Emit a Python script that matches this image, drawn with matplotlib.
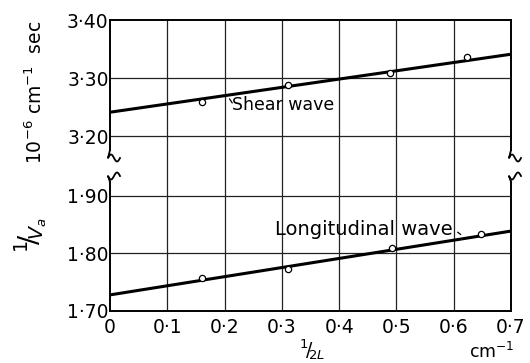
import matplotlib
matplotlib.use('Agg')
import matplotlib.pyplot as plt
import numpy as np
from matplotlib.lines import Line2D

plt.rcParams['font.family'] = ['DejaVu Sans']
plt.rcParams['mathtext.fontset'] = 'dejavusans'

# ---- data ----
shear_x = [0.160, 0.310, 0.489, 0.624]
shear_y = [3.259, 3.288, 3.309, 3.337]
shear_fit = [3.241, 3.341]          # line value at x=0 and x=0.7

long_x = [0.160, 0.310, 0.492, 0.647]
long_y = [1.757, 1.7725, 1.810, 1.834]
long_fit = [1.728, 1.839]

fit_x = [0.0, 0.7]
x_ticks = [0, 0.1, 0.2, 0.3, 0.4, 0.5, 0.6, 0.7]
x_ticklabels = ['0', '0·1', '0·2', '0·3', '0·4', '0·5', '0·6', '0·7']
upper_ticks = [3.20, 3.30, 3.40]
upper_labels = ['3·20', '3·30', '3·40']
lower_ticks = [1.70, 1.80, 1.90]
lower_labels = ['1·70', '1·80', '1·90']

W, H = 530, 363
fig = plt.figure(figsize=(W / 100, H / 100), dpi=100)


def px(x, y):
    return x / W, 1 - y / H


L, R, T, M, B = 110, 511, 20, 168, 311
ax_up = fig.add_axes([L / W, 1 - M / H, (R - L) / W, (M - T) / H])
ax_lo = fig.add_axes([L / W, 1 - B / H, (R - L) / W, (B - M) / H])

ax_up.set_ylim(3.40 - (M - T) / 58 * 0.1, 3.40)
ax_lo.set_ylim(1.70, 1.70 + (B - M) / 57.5 * 0.1)

fs = 12.5
tfs = 13.5
for ax in (ax_up, ax_lo):
    ax.set_xlim(0, 0.7)
    ax.set_xticks(x_ticks)
    for xv in x_ticks[1:-1]:
        ax.axvline(xv, color='#222222', lw=0.9, zorder=1)
    ax.tick_params(length=0, labelsize=tfs, pad=1)
    for s in ax.spines.values():
        s.set_linewidth(1.4)
    ax.patch.set_alpha(0)

ax_up.spines['bottom'].set_visible(False)
ax_lo.spines['top'].set_visible(False)
ax_up.set_xticklabels([])
ax_lo.set_xticklabels(x_ticklabels)
ax_lo.tick_params(axis='x', pad=5)

ax_up.set_yticks(upper_ticks)
ax_up.set_yticklabels(upper_labels)
ax_lo.set_yticks(lower_ticks)
ax_lo.set_yticklabels(lower_labels)
for yv in upper_ticks[:-1]:
    ax_up.axhline(yv, color='#222222', lw=0.9, zorder=1)
for yv in lower_ticks[1:]:
    ax_lo.axhline(yv, color='#222222', lw=0.9, zorder=1)

# spine gaps at the axis break
up_lo = 3.40 - (150 - T) / 58 * 0.1
lo_hi = 1.70 + (B - 182) / 57.5 * 0.1
for side in ('left', 'right'):
    ax_up.spines[side].set_bounds(up_lo, 3.40)
    ax_lo.spines[side].set_bounds(1.70, lo_hi)

# fitted lines and points
ax_up.plot(fit_x, shear_fit, color='black', lw=2.2, zorder=3)
ax_up.plot(shear_x, shear_y, 'o', ms=4.5, mfc='white', mec='black', mew=0.9, zorder=4)
ax_lo.plot(fit_x, long_fit, color='black', lw=2.2, zorder=3)
ax_lo.plot(long_x, long_y, 'o', ms=4.5, mfc='white', mec='black', mew=0.9, zorder=4)

# labels on the lines
ax_up.text(0.302, 3.2534, 'Shear wave', fontsize=fs, va='center', ha='center')
ax_up.annotate('', xy=(0.206, 3.268), xytext=(0.216, 3.253),
               arrowprops=dict(arrowstyle='-', lw=0.9, color='black'))
ax_lo.text(0.598, 1.8417, 'Longitudinal wave', fontsize=fs + 1.5, va='center', ha='right')
ax_lo.annotate('', xy=(0.616, 1.830), xytext=(0.603, 1.840),
               arrowprops=dict(arrowstyle='-', lw=0.9, color='black'))

# break wiggles on both side spines
t = np.linspace(0, 1, 40)
for xc in (L, R):
    for yc, d in ((158, -1), (176, 1)):
        xs = xc - 2 + 12 * t
        ys = yc + 3.5 * np.sin(2 * np.pi * t) * d
        # join wiggle to the spine end
        xs = np.concatenate([[xc], xs])
        ys = np.concatenate([[150 if d < 0 else 182], ys])
        fx, fy = zip(*[px(a, b) for a, b in zip(xs, ys)])
        fig.add_artist(Line2D(fx, fy, color='black', lw=1.3, transform=fig.transFigure))

# axis titles
fig.text(*px(35, 92), r'$10^{-6}\ \mathrm{cm}^{-1}\ \ \mathrm{sec}$', rotation=90,
         ha='center', va='center', fontsize=13.5)
fig.text(*px(31, 235), r'$^{1}\!/\!_{V_a}$', rotation=90,
         ha='center', va='center', fontsize=fs + 7)
fig.text(*px(312, 350), r'$^{1}\!/\!_{2L}$', ha='center', va='center', fontsize=fs + 1)
fig.text(*px(492, 352), r'$\mathrm{cm}^{-1}$', ha='center', va='center', fontsize=fs)

fig.savefig('out.png', dpi=100)
